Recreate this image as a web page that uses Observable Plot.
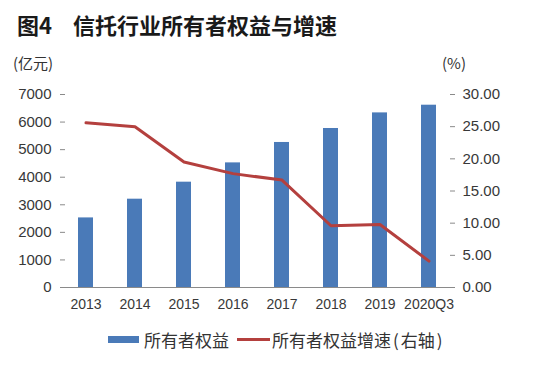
<!DOCTYPE html>
<html><head><meta charset="utf-8">
<script src="https://cdn.jsdelivr.net/npm/d3@7"></script>
<script src="https://cdn.jsdelivr.net/npm/@observablehq/plot@0.6"></script>
<style>
body{margin:0;background:#fff;}
#wrap{position:relative;width:550px;height:379px;overflow:hidden;font-family:"Noto Sans CJK SC","Noto Sans",sans-serif;background:#fff;}
#wrap svg{position:absolute;left:0;top:0;}
.t{position:absolute;white-space:nowrap;color:#222;}
.sw{position:absolute;}
.p{margin:0 2px;}
</style></head><body><div id="wrap"></div>
<script>
const years = ["2013","2014","2015","2016","2017","2018","2019","2020Q3"];
const equity = [2524, 3203, 3820, 4520, 5260, 5767, 6333, 6612];
const growth = [25.6, 25.0, 19.5, 17.7, 16.7, 9.6, 9.8, 4.1];
const leftTicks = [0,1000,2000,3000,4000,5000,6000,7000];
const rightTicks = [0,5,10,15,20,25,30];
const titleNum = "图4";
const titleText = "信托行业所有者权益与增速";
const leftUnit = "(亿元)";
const rightUnit = "(%)";
const legendBar = "所有者权益";
const legendLine = ["所有者权益增速", "(", "右轴", ")"];

const Y_MAX = 7000, P_MAX = 30;
const rows = years.map((y,i)=>({year:y, equity:equity[i], growth:growth[i], gy:growth[i]*Y_MAX/P_MAX}));

const blue = "#4a7ab8", red = "#b4403e", axisGray = "#8a8a8a", txt = "#383838";

const chart = Plot.plot({
  width: 550, height: 379,
  marginTop: 94, marginBottom: 92, marginLeft: 60, marginRight: 96,
  style: {fontFamily: "'Liberation Sans', Arial, sans-serif", fontSize: "14px", color: txt, background: "transparent"},
  x: {domain: years, paddingInner: 0.695, paddingOuter: 0.35, label: null},
  y: {domain: [0, Y_MAX], label: null},
  marks: [
    Plot.barY(rows, {x: "year", y: "equity", fill: blue}),
    Plot.line(rows, {x: "year", y: "gy", stroke: red, strokeWidth: 3}),
    Plot.axisY({anchor: "left", ticks: leftTicks, tickFormat: d=>String(d), tickSize: -5, tickPadding: 14, stroke: axisGray, line: true, label: null, fontSize: 15}),
    Plot.axisY({anchor: "right", ticks: rightTicks.map(v=>v*Y_MAX/P_MAX), tickFormat: d=>(d*P_MAX/Y_MAX).toFixed(2), tickSize: -5, tickPadding: 13, stroke: axisGray, line: true, label: null, fontSize: 15}),
    Plot.axisX({anchor: "bottom", tickSize: 0, tickPadding: 12, label: null, fontSize: 14}),
    Plot.ruleY([0], {stroke: axisGray})
  ]
});
const wrap = document.getElementById("wrap");
wrap.appendChild(chart);

function addText(s, left, top, size, extra){
  const d = document.createElement("div");
  d.className = "t";
  if (Array.isArray(s)) {
    s.forEach(part => {
      const sp = document.createElement("span");
      sp.textContent = part;
      if (part === "(" || part === ")") sp.className = "p";
      d.appendChild(sp);
    });
  } else d.textContent = s;
  d.style.left = left+"px"; d.style.top = top+"px";
  d.style.fontSize = size+"px"; d.style.lineHeight = size+"px";
  if (extra) Object.assign(d.style, extra);
  wrap.appendChild(d);
}
addText(titleNum, 17, 13, 22, {fontWeight:"700", color:"#1a1a1a"});
addText(titleText, 73, 13, 22, {fontWeight:"700", color:"#1a1a1a"});
addText(leftUnit, 13, 55, 15, {color:"#333"});
addText(rightUnit, 442, 55, 15, {color:"#333"});
// legend
const s1 = document.createElement("div"); s1.className="sw";
Object.assign(s1.style,{left:"108px", top:"336px", width:"31px", height:"7px", background:blue});
wrap.appendChild(s1);
addText(legendBar, 144, 331, 17, {color:"#333"});
const s2 = document.createElement("div"); s2.className="sw";
Object.assign(s2.style,{left:"237px", top:"338px", width:"33px", height:"3px", background:red});
wrap.appendChild(s2);
addText(legendLine, 272, 331, 17, {color:"#333"});
</script></body></html>
